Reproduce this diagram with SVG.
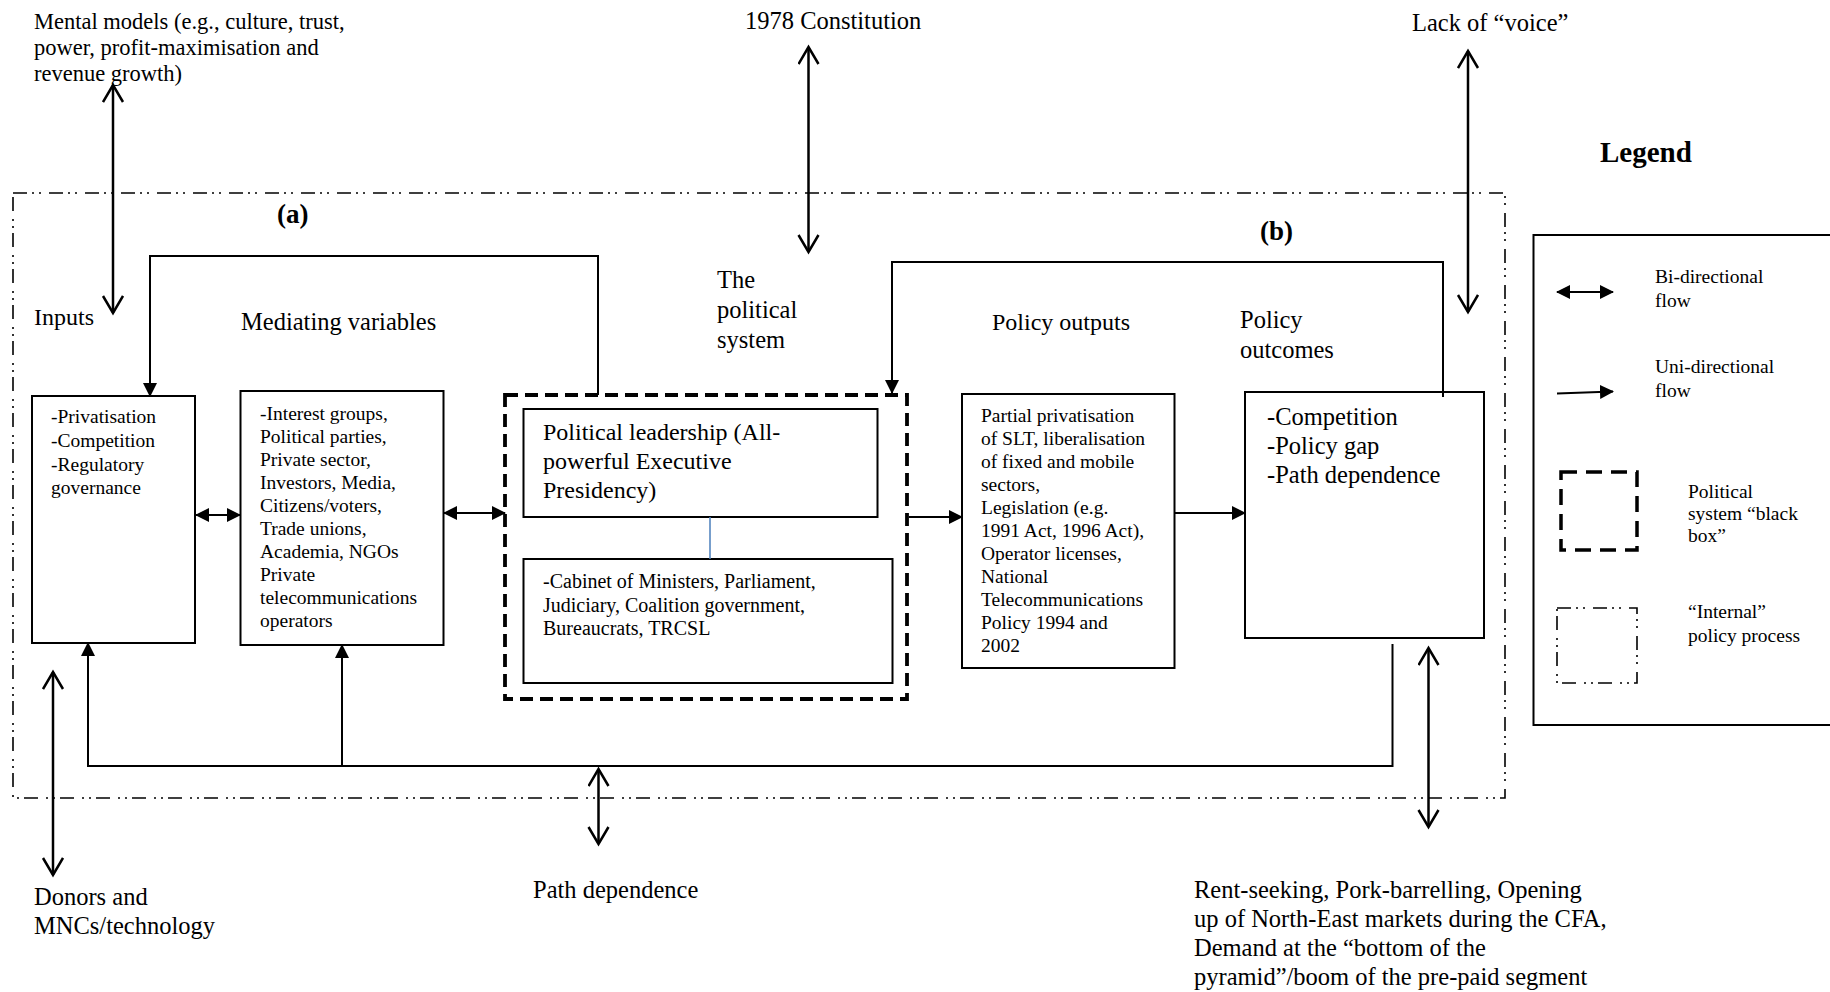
<svg xmlns="http://www.w3.org/2000/svg" width="1830" height="992" viewBox="0 0 1830 992">
<defs>
<marker id="fa" markerUnits="userSpaceOnUse" markerWidth="16" markerHeight="16" refX="13" refY="7" orient="auto-start-reverse">
<path d="M0,0 L14,7 L0,14 z" fill="#000"/>
</marker>
<marker id="oa" markerUnits="userSpaceOnUse" markerWidth="22" markerHeight="24" refX="18" refY="11" orient="auto-start-reverse">
<path d="M1,1 L18,11 L1,21" fill="none" stroke="#000" stroke-width="2.5"/>
</marker>
</defs>
<style>
text{font-family:"Liberation Serif","Times New Roman",serif;fill:#000}
.box{fill:#fff;stroke:#000;stroke-width:2}
.bb{fill:none;stroke:#000;stroke-width:3.8;stroke-dasharray:13 7}
.dd{fill:none;stroke:#000;stroke-width:1.6;stroke-dasharray:14 5 2 5 2 8}
.c{fill:none;stroke:#000;stroke-width:2}
.o{fill:none;stroke:#000;stroke-width:2.5}
.s{font-size:19.5px}
.m{font-size:24.5px}
.b{font-weight:bold}
</style>
<rect width="1830" height="992" fill="#fff"/>

<g id="internal-process">
<rect class="dd" x="13" y="193" width="1492" height="605"/>
</g>

<g id="ext-mental">
<text x="34" y="29" font-size="22.5">Mental models (e.g., culture, trust,</text>
<text x="34" y="55" font-size="22.5">power, profit-maximisation and</text>
<text x="34" y="81" font-size="22.5">revenue growth)</text>
</g>
<g id="ext-constitution"><text class="m" x="745" y="29">1978 Constitution</text></g>
<g id="ext-voice"><text class="m" x="1412" y="31">Lack of “voice”</text></g>
<g id="ext-donors">
<text class="m" x="34" y="905">Donors and</text>
<text class="m" x="34" y="934">MNCs/technology</text>
</g>
<g id="ext-path"><text class="m" x="533" y="898">Path dependence</text></g>
<g id="ext-rent">
<text class="m" x="1194" y="898">Rent-seeking, Pork-barrelling, Opening</text>
<text class="m" x="1194" y="927">up of North-East markets during the CFA,</text>
<text class="m" x="1194" y="956">Demand at the “bottom of the</text>
<text class="m" x="1194" y="985">pyramid”/boom of the pre-paid segment</text>
</g>

<g id="labels">
<text class="b" x="277" y="223" font-size="27">(a)</text>
<text class="b" x="1260" y="240" font-size="27">(b)</text>
<text x="34" y="325" font-size="24">Inputs</text>
<text class="m" x="241" y="330">Mediating variables</text>
<text class="m" x="717" y="288">The</text>
<text class="m" x="717" y="318">political</text>
<text class="m" x="717" y="348">system</text>
<text x="992" y="330" font-size="24">Policy outputs</text>
<text class="m" x="1240" y="328">Policy</text>
<text class="m" x="1240" y="358">outcomes</text>
</g>

<g id="inputs">
<rect class="box" x="32" y="396" width="163" height="247"/>
<text class="s" x="51" y="423">-Privatisation</text>
<text class="s" x="51" y="447">-Competition</text>
<text class="s" x="51" y="471">-Regulatory</text>
<text class="s" x="51" y="494">governance</text>
</g>

<g id="mediating">
<rect class="box" x="240.5" y="391" width="203" height="254"/>
<text class="s" x="260" y="420">-Interest groups,</text>
<text class="s" x="260" y="443">Political parties,</text>
<text class="s" x="260" y="466">Private sector,</text>
<text class="s" x="260" y="489">Investors, Media,</text>
<text class="s" x="260" y="512">Citizens/voters,</text>
<text class="s" x="260" y="535">Trade unions,</text>
<text class="s" x="260" y="558">Academia, NGOs</text>
<text class="s" x="260" y="581">Private</text>
<text class="s" x="260" y="604">telecommunications</text>
<text class="s" x="260" y="627">operators</text>
</g>

<g id="political-system">
<rect class="bb" x="505" y="395" width="402" height="304"/>
</g>
<g id="leadership">
<rect class="box" x="523.5" y="409" width="354" height="108"/>
<text x="543" y="440" font-size="24">Political leadership (All-</text>
<text x="543" y="469" font-size="24">powerful Executive</text>
<text x="543" y="498" font-size="24">Presidency)</text>
</g>
<g id="cabinet">
<rect class="box" x="523.5" y="559" width="369" height="124"/>
<text x="543" y="588" font-size="20">-Cabinet of Ministers, Parliament,</text>
<text x="543" y="612" font-size="20">Judiciary, Coalition government,</text>
<text x="543" y="635" font-size="20">Bureaucrats, TRCSL</text>
</g>

<g id="outputs">
<rect class="box" x="962" y="394" width="212.5" height="274"/>
<text class="s" x="981" y="422">Partial privatisation</text>
<text class="s" x="981" y="445">of SLT, liberalisation</text>
<text class="s" x="981" y="468">of fixed and mobile</text>
<text class="s" x="981" y="491">sectors,</text>
<text class="s" x="981" y="514">Legislation (e.g.</text>
<text class="s" x="981" y="537">1991 Act, 1996 Act),</text>
<text class="s" x="981" y="560">Operator licenses,</text>
<text class="s" x="981" y="583">National</text>
<text class="s" x="981" y="606">Telecommunications</text>
<text class="s" x="981" y="629">Policy 1994 and</text>
<text class="s" x="981" y="652">2002</text>
</g>

<g id="outcomes">
<rect class="box" x="1245" y="392" width="239" height="246"/>
<text class="m" x="1267" y="425">-Competition</text>
<text class="m" x="1267" y="454">-Policy gap</text>
<text class="m" x="1267" y="483">-Path dependence</text>
</g>

<g id="connectors">
<polyline class="c" points="598,395 598,256 150,256 150,396" marker-end="url(#fa)"/>
<polyline class="c" points="1443,397 1443,262 892,262 892,393" marker-end="url(#fa)"/>
<polyline class="c" points="1392.5,644 1392.5,766 88,766 88,643" marker-end="url(#fa)"/>
<line class="c" x1="342" y1="766" x2="342" y2="645" marker-end="url(#fa)"/>
<line class="c" x1="196" y1="515" x2="240" y2="515" marker-start="url(#fa)" marker-end="url(#fa)"/>
<line class="c" x1="444" y1="513" x2="505" y2="513" marker-start="url(#fa)" marker-end="url(#fa)"/>
<line class="c" x1="909" y1="517" x2="962" y2="517" marker-end="url(#fa)"/>
<line class="c" x1="1175" y1="513" x2="1245" y2="513" marker-end="url(#fa)"/>
<line x1="710" y1="517" x2="710" y2="559" stroke="#4a7ebb" stroke-width="1.5"/>
<line class="o" x1="113" y1="85" x2="113" y2="313" marker-start="url(#oa)" marker-end="url(#oa)"/>
<line class="o" x1="808.5" y1="47" x2="808.5" y2="252" marker-start="url(#oa)" marker-end="url(#oa)"/>
<line class="o" x1="1468" y1="51" x2="1468" y2="312" marker-start="url(#oa)" marker-end="url(#oa)"/>
<line class="o" x1="53" y1="672" x2="53" y2="875" marker-start="url(#oa)" marker-end="url(#oa)"/>
<line class="o" x1="598.5" y1="769" x2="598.5" y2="844" marker-start="url(#oa)" marker-end="url(#oa)"/>
<line class="o" x1="1428.5" y1="648" x2="1428.5" y2="827" marker-start="url(#oa)" marker-end="url(#oa)"/>
</g>

<g id="legend">
<text class="b" x="1600" y="162" font-size="29">Legend</text>
<path d="M1840,235 H1533.5 V725 H1840" fill="none" stroke="#000" stroke-width="2"/>
<line class="c" x1="1557" y1="292" x2="1613" y2="292" marker-start="url(#fa)" marker-end="url(#fa)"/>
<text class="s" x="1655" y="283">Bi-directional</text>
<text class="s" x="1655" y="307">flow</text>
<line class="c" x1="1557" y1="393.5" x2="1613" y2="391.5" marker-end="url(#fa)"/>
<text class="s" x="1655" y="373">Uni-directional</text>
<text class="s" x="1655" y="397">flow</text>
<rect x="1561" y="472" width="76" height="78" fill="none" stroke="#000" stroke-width="3.5" stroke-dasharray="16 9"/>
<text class="s" x="1688" y="498">Political</text>
<text class="s" x="1688" y="520">system “black</text>
<text class="s" x="1688" y="542">box”</text>
<rect class="dd" x="1557" y="608" width="80" height="75"/>
<text class="s" x="1688" y="618">“Internal”</text>
<text class="s" x="1688" y="642">policy process</text>
</g>
</svg>
